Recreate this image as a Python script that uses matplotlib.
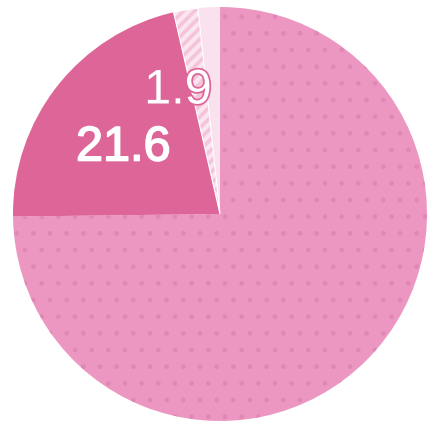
import matplotlib
matplotlib.use("Agg")
import matplotlib.pyplot as plt
import matplotlib.patheffects as pe
from matplotlib.patches import Wedge

values = [74.8, 21.6, 1.9, 1.7]
labels = ["", "21.6", "1.9", ""]
colors = ["#EC97C1", "#DE6598", "#F4C4DA", "#F9E1ED"]
hatch_colors = ["#E187B5", None, "#FBE6F0", None]
hatches = [".", None, "///", None]
hatch_lws = [1.0, None, 3.0, None]

W, H = 428, 425
fig = plt.figure(figsize=(W / 100, H / 100), dpi=100)
ax = fig.add_axes([0, 0, 1, 1])
ax.set_aspect("equal")
ax.axis("off")

center = (220, H - 214)
radius = 207

wedges, _ = ax.pie(values, colors=colors, startangle=90, counterclock=False,
                   center=center, radius=radius, frame=True,
                   wedgeprops=dict(linewidth=0))
for w, hc, h, hl in zip(wedges, hatch_colors, hatches, hatch_lws):
    if h is None:
        continue
    with plt.rc_context({"hatch.linewidth": hl}):
        hw = Wedge(w.center, w.r, w.theta1, w.theta2, facecolor="none",
                   edgecolor=hc, linewidth=0, hatch=h)
    ax.add_patch(hw)
# thin white separator around the hatched slice
for w in wedges[2:3]:
    ax.add_patch(Wedge(w.center, w.r, w.theta1, w.theta2, facecolor="none",
                       edgecolor="white", linewidth=0.8))

ax.set_xlim(0, W)
ax.set_ylim(0, H)

ax.text(123.5, H - 148, labels[1], color="white", fontsize=35,
        family="Liberation Sans", ha="center", va="center",
        path_effects=[pe.Stroke(linewidth=1.2, foreground="white"), pe.Normal()])
ax.text(178, H - 91, labels[2], color="white", fontsize=35,
        family="Liberation Sans", ha="center", va="center",
        path_effects=[pe.Stroke(linewidth=2.5, foreground="#DE6598"), pe.Normal()])

fig.savefig("out.png", dpi=100)
